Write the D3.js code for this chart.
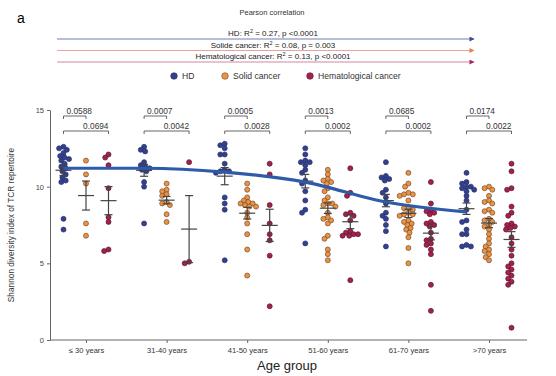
<!DOCTYPE html>
<html lang="en">
<head>
    <style>
        body { margin: 0; background: white; }
        svg { font-family: "Liberation Sans", Arial, sans-serif; }
    </style>
    <script src="https://d3js.org/d3.v7.min.js"></script>
</head>
<body>
    <svg id="chart" width="556" height="376"></svg>
    <script>
        // Age groups and the three cohorts
        var groups = ["\u2264 30 years", "31-40 years", "41-50 years", "51-60 years", "61-70 years", ">70 years"];
        var cohorts = ["HD", "Solid cancer", "Hematological cancer"];

        // Shannon diversity per donor, one array per age group
        var hdValues = [
            [12.6,12.5,12.4,12.2,12.0,11.9,11.8,11.7,11.5,11.3,11.2,11.0,10.8,10.6,10.4,10.3,7.9,7.2],
            [12.6,12.4,12.3,11.6,11.4,11.3,11.2,11.1,11.0,10.3,10.0,7.6],
            [12.8,12.7,12.5,12.1,12.1,11.5,11.1,11.0,11.0,10.9,9.3,8.9,8.5,5.2],
            [12.5,12.1,11.7,11.6,11.6,11.4,11.1,10.9,10.4,10.2,9.7,9.1,8.5,8.3,6.3],
            [11.6,10.7,10.6,10.5,10.4,9.8,9.6,9.3,8.9,8.3,8.1,7.9,7.5,7.1,6.1],
            [10.9,10.3,10.2,10.0,10.0,9.9,9.8,9.7,9.4,9.1,8.5,7.8,7.7,7.2,6.9,6.9,6.2,6.1,6.1]
        ];
        var solidValues = [
            [11.7,10.8,10.2,7.6,6.8],
            [10.2,9.8,9.7,9.5,9.4,9.0,8.9,8.8,8.2,7.7],
            [10.2,9.8,9.3,9.1,9.0,8.9,8.9,8.8,8.7,8.7,8.3,8.0,7.6,6.9,5.9,4.2],
            [11.1,10.8,10.5,10.4,10.3,10.2,9.9,9.7,9.3,9.1,8.9,8.9,8.8,8.7,8.3,8.0,7.9,7.8,7.6,6.8,6.6,5.9,5.6,5.2],
            [10.9,10.2,10.0,9.6,9.5,9.5,9.4,9.1,8.6,8.6,8.5,8.3,8.2,8.2,8.1,7.8,7.7,7.6,7.5,7.3,7.2,7.0,6.7,6.0,5.0],
            [10.0,9.9,9.8,9.4,9.1,9.0,8.9,8.5,8.4,8.3,7.9,7.8,7.7,7.5,7.4,7.2,6.9,6.6,6.3,6.1,5.9,5.8,5.6,5.4,5.2]
        ];
        var hemeValues = [
            [12.1,11.9,11.4,9.9,8.0,7.7,5.9,5.8],
            [11.6,5.1,5.0],
            [11.5,10.8,8.8,7.6,6.9,6.5,5.5,2.2],
            [11.2,9.6,9.4,8.3,8.2,8.1,7.8,7.1,7.0,6.9,6.9,6.8,6.8,3.9],
            [10.3,8.9,8.5,8.4,8.3,8.2,7.7,7.6,7.5,7.4,7.0,6.6,6.5,6.3,6.2,5.9,5.6,3.6,1.9],
            [11.5,11.0,9.9,9.8,8.7,8.3,8.1,7.6,7.5,7.4,7.3,7.2,6.7,6.3,5.9,5.5,5.0,4.8,4.6,4.4,4.2,4.0,3.8,3.6,0.8]
        ];

        // p values: HD vs solid (upper bracket), HD vs hematological (lower bracket)
        var pSolid = ["0.0588", "0.0007", "0.0005", "0.0013", "0.0685", "0.0174"];
        var pHeme  = ["0.0694", "0.0042", "0.0028", "0.0002", "0.0002", "0.0022"];

        // HD trend line, one value per age group
        var hdTrend = [11.2, 11.2, 10.95, 10.3, 9.0, 8.35];

        var yTicks = [0, 5, 10, 15];
        var correlations = [
            {label: "HD: R", rest: " = 0.27,  p <0.0001"},
            {label: "Solide cancer: R", rest: " = 0.08,  p = 0.003"},
            {label: "Hematological cancer: R", rest: " = 0.13, p <0.0001"}
        ];

        var fills   = ["#33408c", "#e89447", "#a3214b"];
        var strokes = ["#2a3270", "#7a4a2a", "#5a1a30"];
        var arrowColors = ["#3b4a8e", "#e2814e", "#a82a55"];
        var lineColors  = ["#6f7fb4", "#e8a4a0", "#d2869e"];

        var svg = d3.select("#chart");

        var x = d3.scalePoint().domain(groups).range([45.7, 529.3]).padding(0.5);
        var xSub = d3.scalePoint().domain(cohorts).range([-22.5, 22.5]);
        var y = d3.scaleLinear().domain([0, 15]).range([340, 110]);

        // panel letter and header
        svg.append("text").attr("x", 17).attr("y", 23).attr("font-size", 14).text("a");
        svg.append("text").attr("x", 272).attr("y", 15).attr("text-anchor", "middle")
            .attr("font-size", 7.5).attr("fill", "#333").text("Pearson correlation");

        var defs = svg.append("defs");
        arrowColors.forEach(function(c, i) {
            defs.append("marker").attr("id", "arr" + i)
                .attr("viewBox", "0 0 10 10").attr("refX", 9).attr("refY", 5)
                .attr("markerWidth", 8).attr("markerHeight", 5).attr("markerUnits", "userSpaceOnUse")
                .attr("orient", "auto")
                .append("path").attr("d", "M0,0L10,5L0,10Z").attr("fill", c);
        });

        correlations.forEach(function(c, i) {
            var ly = 39 + i * 11.5;
            svg.append("line").attr("x1", 57).attr("x2", 474).attr("y1", ly).attr("y2", ly)
                .attr("stroke", lineColors[i]).attr("stroke-width", 1)
                .attr("marker-end", "url(#arr" + i + ")");
            var t = svg.append("text").attr("x", 273).attr("y", ly - 3).attr("text-anchor", "middle")
                .attr("font-size", 8).attr("fill", "#222");
            t.append("tspan").text(c.label);
            t.append("tspan").attr("dy", -3).attr("font-size", 5.5).text("2");
            t.append("tspan").attr("dy", 3).text(c.rest);
        });

        // legend
        var legendX = [174, 225, 310];
        cohorts.forEach(function(c, i) {
            var g = svg.append("g").attr("transform", "translate(" + legendX[i] + ",76)");
            g.append("circle").attr("r", 3.3).attr("fill", fills[i]).attr("stroke", strokes[i]).attr("stroke-width", 0.6);
            g.append("text").attr("x", 8).attr("y", 3).attr("font-size", 8.6).attr("fill", "#333").text(c);
        });

        // y axis
        var yAxis = svg.append("g").attr("transform", "translate(50,0)")
            .call(d3.axisLeft(y).tickValues(yTicks).tickSize(3).tickSizeOuter(0));
        yAxis.select(".domain").attr("stroke", "#666");
        yAxis.selectAll(".tick line").attr("stroke", "#666");
        yAxis.selectAll(".tick text").attr("font-size", 7.5).attr("fill", "#444").attr("font-family", "Liberation Sans, Arial, sans-serif");

        svg.append("text").attr("transform", "translate(14,225) rotate(-90)")
            .attr("text-anchor", "middle").attr("font-size", 8.3).attr("fill", "#333")
            .text("Shannon diversity index of TCR repertoire");

        // x axis
        var xAxis = svg.append("g").attr("transform", "translate(0,340)")
            .call(d3.axisBottom(x).tickSize(3).tickSizeOuter(0));
        xAxis.select(".domain").remove();
        xAxis.append("line").attr("x1", 50).attr("x2", 527).attr("stroke", "#666");
        xAxis.selectAll(".tick line").attr("stroke", "#666");
        xAxis.selectAll(".tick text").attr("font-size", 7.6).attr("fill", "#333").attr("dy", "0.9em")
            .attr("font-family", "Liberation Sans, Arial, sans-serif");

        svg.append("text").attr("x", 287).attr("y", 370).attr("text-anchor", "middle")
            .attr("font-size", 13).attr("fill", "#222").text("Age group");

        // beeswarm placement (points may overlap slightly, like the original)
        var r = 2.5;
        function swarm(values, cx) {
            var placed = [];
            values.slice().sort(function(a, b) { return b - a; }).forEach(function(v) {
                var py = y(v);
                for (var k = 0; k < 40; k++) {
                    var dx = (k % 2 === 0 ? 1 : -1) * Math.ceil(k / 2) * 1.1;
                    var px = cx + dx;
                    var ok = placed.every(function(p) {
                        return Math.hypot(p.x - px, p.y - py) >= 1.6 * r;
                    });
                    if (ok) { placed.push({x: px, y: py, v: v}); break; }
                }
            });
            return placed;
        }

        var allSeries = [hdValues, solidValues, hemeValues];
        var dots = svg.append("g");
        var bars = svg.append("g");

        groups.forEach(function(gName, gi) {
            allSeries.forEach(function(series, ci) {
                var vals = series[gi];
                var cx = x(gName) + xSub(cohorts[ci]);
                dots.selectAll(null).data(swarm(vals, cx)).enter().append("circle")
                    .attr("cx", function(d) { return d.x; })
                    .attr("cy", function(d) { return d.y; })
                    .attr("r", r)
                    .attr("fill", fills[ci]).attr("stroke", strokes[ci]).attr("stroke-width", 0.7);

                var m = d3.mean(vals);
                var sem = d3.deviation(vals) / Math.sqrt(vals.length);
                bars.append("line").attr("x1", cx).attr("x2", cx).attr("y1", y(m + sem)).attr("y2", y(m - sem));
                bars.append("line").attr("x1", cx - 8).attr("x2", cx + 8).attr("y1", y(m)).attr("y2", y(m));
                [m + sem, m - sem].forEach(function(e) {
                    bars.append("line").attr("x1", cx - 4).attr("x2", cx + 4).attr("y1", y(e)).attr("y2", y(e));
                });
            });

            // significance brackets
            var xh = x(gName) + xSub(cohorts[0]);
            var xs = x(gName) + xSub(cohorts[1]);
            var xm = x(gName) + xSub(cohorts[2]);
            [[xs, 116, pSolid[gi], "start", xh + 3], [xm, 131, pHeme[gi], "end", xm]].forEach(function(b) {
                svg.append("path")
                    .attr("d", "M" + xh + "," + (b[1] + 3) + "V" + b[1] + "H" + b[0] + "V" + (b[1] + 3))
                    .attr("fill", "none").attr("stroke", "#555").attr("stroke-width", 0.9);
                svg.append("text").attr("x", b[4]).attr("y", b[1] - 2).attr("text-anchor", b[3])
                    .attr("font-size", 8.3).attr("fill", "#333").text(b[2]);
            });
        });

        bars.selectAll("line").attr("stroke", "#444").attr("stroke-width", 1.2);

        // HD trend curve
        svg.append("path")
            .datum(hdTrend)
            .attr("d", d3.line()
                .x(function(d, i) { return x(groups[i]) + xSub(cohorts[0]); })
                .y(function(d) { return y(d); })
                .curve(d3.curveMonotoneX))
            .attr("fill", "none").attr("stroke", "#2d5ba8").attr("stroke-width", 3.2);
    </script>
</body>
</html>
